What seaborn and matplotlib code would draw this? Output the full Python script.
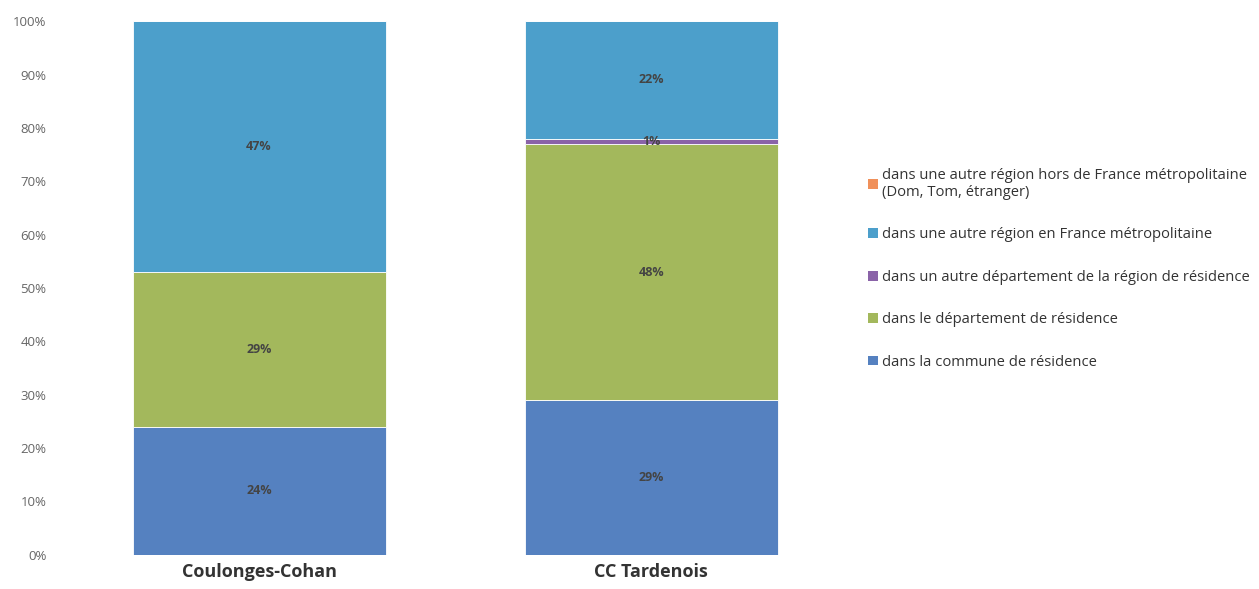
import pandas as pd
import numpy as np
import matplotlib.pyplot as plt
import seaborn as sns
from matplotlib.patches import Patch
from matplotlib.ticker import PercentFormatter

sns.set_style("white")
plt.rcParams['font.family'] = ['Open Sans', 'DejaVu Sans']

# ========== données ==========
territoires = ['Coulonges-Cohan', 'CC Tardenois']
series = ['dans la commune de résidence',
          'dans le département de résidence',
          'dans un autre département de la région de résidence',
          'dans une autre région en France métropolitaine',
          'dans une autre région hors de France métropolitaine\n(Dom, Tom, étranger)']
commune = [24, 29]
departement = [29, 48]
autre_dep = [0, 1]
autre_region = [47, 22]
hors_france = [0, 0]
couleurs = ['#5581c0', '#a3b85c', '#8a63a8', '#4c9fcb', '#f0905a']

valeurs = [commune, departement, autre_dep, autre_region, hors_france]
df = pd.DataFrame({'territoire': np.repeat(territoires, len(series)),
                   'serie': series * len(territoires),
                   'pct': [valeurs[j][i] for i in range(len(territoires)) for j in range(len(series))]})

fig = plt.figure(figsize=(12.59, 5.89), dpi=100)
ax = fig.add_axes([0.05, 0.058, 0.623, 0.906])

bas = np.zeros(len(territoires))
for serie, coul in zip(series, couleurs):
    sub = df[df['serie'] == serie].set_index('territoire').loc[territoires].reset_index()
    sns.barplot(data=sub, x='territoire', y='pct', color=coul, bottom=bas,
                width=0.645, ax=ax, edgecolor='white', linewidth=0.6, saturation=1)
    for i, v in enumerate(sub['pct']):
        if v > 0:
            ax.text(i, bas[i] + v / 2, f'{v}%', ha='center', va='center',
                    fontsize=9, fontweight='bold', color='#444444')
    bas = bas + sub['pct'].values

ax.set_ylim(0, 100)
ax.set_xlim(-0.5, 1.5)
ax.set_yticks(range(0, 101, 10))
ax.yaxis.set_major_formatter(PercentFormatter(decimals=0))
ax.tick_params(axis='y', labelsize=9.5, labelcolor='#666666', length=0, pad=12)
ax.tick_params(axis='x', labelsize=13, length=0, pad=6)
for lab in ax.get_xticklabels():
    lab.set_fontweight('bold')
    lab.set_color('#333333')
ax.set_xlabel('')
ax.set_ylabel('')
for s in ax.spines.values():
    s.set_visible(False)

handles = [Patch(facecolor=c, edgecolor='none') for c in couleurs[::-1]]
ax.legend(handles, series[::-1], loc='upper left', bbox_to_anchor=(1.01, 0.75),
          frameon=False, fontsize=10.6, labelspacing=1.86, handlelength=0.65,
          handleheight=0.65, handletextpad=0.3, labelcolor='#333333')

plt.savefig('out.png', dpi=100)
plt.close()
